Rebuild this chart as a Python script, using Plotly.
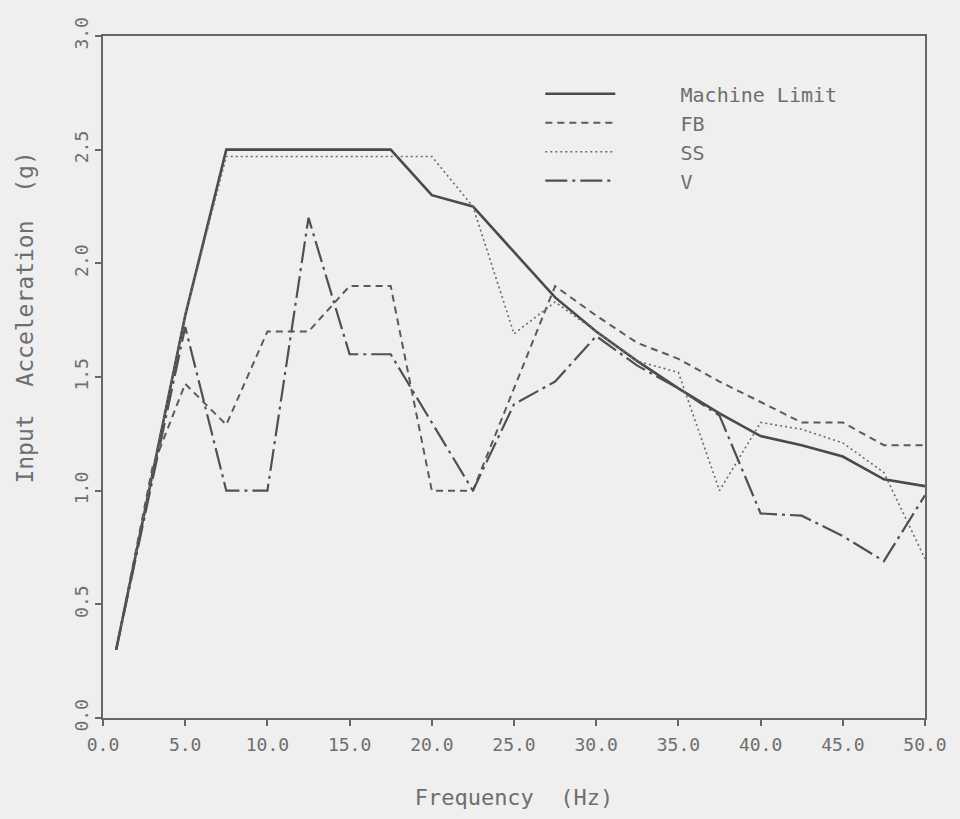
import plotly.graph_objects as go

# ---- data ----
freq_ml = [0.8, 5.0, 7.5, 10.0, 12.5, 15.0, 17.5, 20.0, 22.5, 25.0, 27.5, 30.0,
           32.5, 35.0, 37.5, 40.0, 42.5, 45.0, 47.5, 50.0]
machine_limit = [0.30, 1.77, 2.50, 2.50, 2.50, 2.50, 2.50, 2.30, 2.25, 2.05, 1.85, 1.70,
                 1.57, 1.45, 1.34, 1.24, 1.20, 1.15, 1.05, 1.02]

freq_fb = [0.8, 3.0, 5.0, 7.5, 10.0, 12.5, 15.0, 17.5, 20.0, 22.5, 25.0, 27.5, 30.0,
           32.5, 35.0, 37.5, 40.0, 42.5, 45.0, 47.5, 50.0]
fb = [0.30, 1.10, 1.47, 1.29, 1.70, 1.70, 1.90, 1.90, 1.00, 1.00, 1.45, 1.90, 1.77,
      1.65, 1.58, 1.48, 1.39, 1.30, 1.30, 1.20, 1.20]

freq_ss = [0.8, 5.0, 7.5, 10.0, 12.5, 15.0, 17.5, 20.0, 22.5, 25.0, 27.5, 30.0,
           32.5, 35.0, 37.5, 40.0, 42.5, 45.0, 47.5, 50.0]
ss = [0.30, 1.77, 2.47, 2.47, 2.47, 2.47, 2.47, 2.47, 2.25, 1.69, 1.83, 1.70,
      1.57, 1.52, 1.00, 1.30, 1.27, 1.21, 1.08, 0.70]

freq_v = [0.8, 5.0, 7.5, 10.0, 12.5, 15.0, 17.5, 20.0, 22.5, 25.0, 27.5, 30.0,
          32.5, 35.0, 37.5, 40.0, 42.5, 45.0, 47.5, 50.0]
v = [0.30, 1.72, 1.00, 1.00, 2.20, 1.60, 1.60, 1.30, 1.00, 1.38, 1.48, 1.68,
     1.55, 1.45, 1.33, 0.90, 0.89, 0.80, 0.69, 0.98]

x_ticks = [0, 5, 10, 15, 20, 25, 30, 35, 40, 45, 50]
y_ticks = [0.0, 0.5, 1.0, 1.5, 2.0, 2.5, 3.0]

series_names = ["Machine Limit", "FB", "SS", "V"]

# ---- figure ----
text_col = "#6e6e6e"
bg = "#efefef"
font_family = "DejaVu Sans Mono, Liberation Mono, monospace"
pad = "\u00a0" * 5  # gap between legend sample line and label

fig = go.Figure()
fig.add_trace(go.Scatter(x=freq_ml, y=machine_limit, mode="lines", name=pad + series_names[0],
                         line=dict(color="#4a4a4a", width=2.6, dash="solid")))
fig.add_trace(go.Scatter(x=freq_fb, y=fb, mode="lines", name=pad + series_names[1],
                         line=dict(color="#5a5a5a", width=2.0, dash="7px,5px")))
fig.add_trace(go.Scatter(x=freq_ss, y=ss, mode="lines", name=pad + series_names[2],
                         line=dict(color="#6a6a6a", width=1.6, dash="2px,3px")))
fig.add_trace(go.Scatter(x=freq_v, y=v, mode="lines", name=pad + series_names[3],
                         line=dict(color="#505050", width=2.2, dash="22px,5px,3px,5px")))

axis_common = dict(
    showgrid=False, zeroline=False, showline=True, mirror=True,
    linecolor="#666666", linewidth=2,
    ticks="outside", ticklen=6, tickwidth=2, tickcolor="#666666",
    tickfont=dict(family=font_family, size=18, color=text_col),
)

fig.update_layout(
    width=960, height=819,
    paper_bgcolor=bg, plot_bgcolor=bg,
    margin=dict(l=103, r=35, t=36, b=101),
    font=dict(family=font_family, color=text_col),
    xaxis=dict(range=[0, 50], tickvals=x_ticks,
               ticktext=[f"{t:.1f}" for t in x_ticks],
               ticklabelstandoff=3,
               title=dict(text="Frequency  (Hz)", standoff=36,
                          font=dict(family=font_family, size=22, color=text_col)),
               **axis_common),
    yaxis=dict(range=[0, 3], tickvals=y_ticks,
               ticktext=[f"{t:.1f}" for t in y_ticks], tickangle=-90,
               **axis_common),
    legend=dict(x=0.532, y=0.944, xanchor="left", yanchor="top",
                bgcolor="rgba(0,0,0,0)", borderwidth=0,
                itemwidth=70, tracegroupgap=0,
                font=dict(family=font_family, size=20, color=text_col)),
    showlegend=True,
    annotations=[dict(text="Input  Acceleration  (g)", xref="paper", yref="paper",
                      x=-0.095, y=0.587, xanchor="center", yanchor="middle",
                      textangle=-90, showarrow=False,
                      font=dict(family=font_family, size=23, color=text_col))],
)

fig.write_html(
    "out.html",
    config={"displayModeBar": False},
    post_script="document.body.style.margin='0';document.body.style.overflow='hidden';"
                "document.body.style.background='#efefef';",
)
